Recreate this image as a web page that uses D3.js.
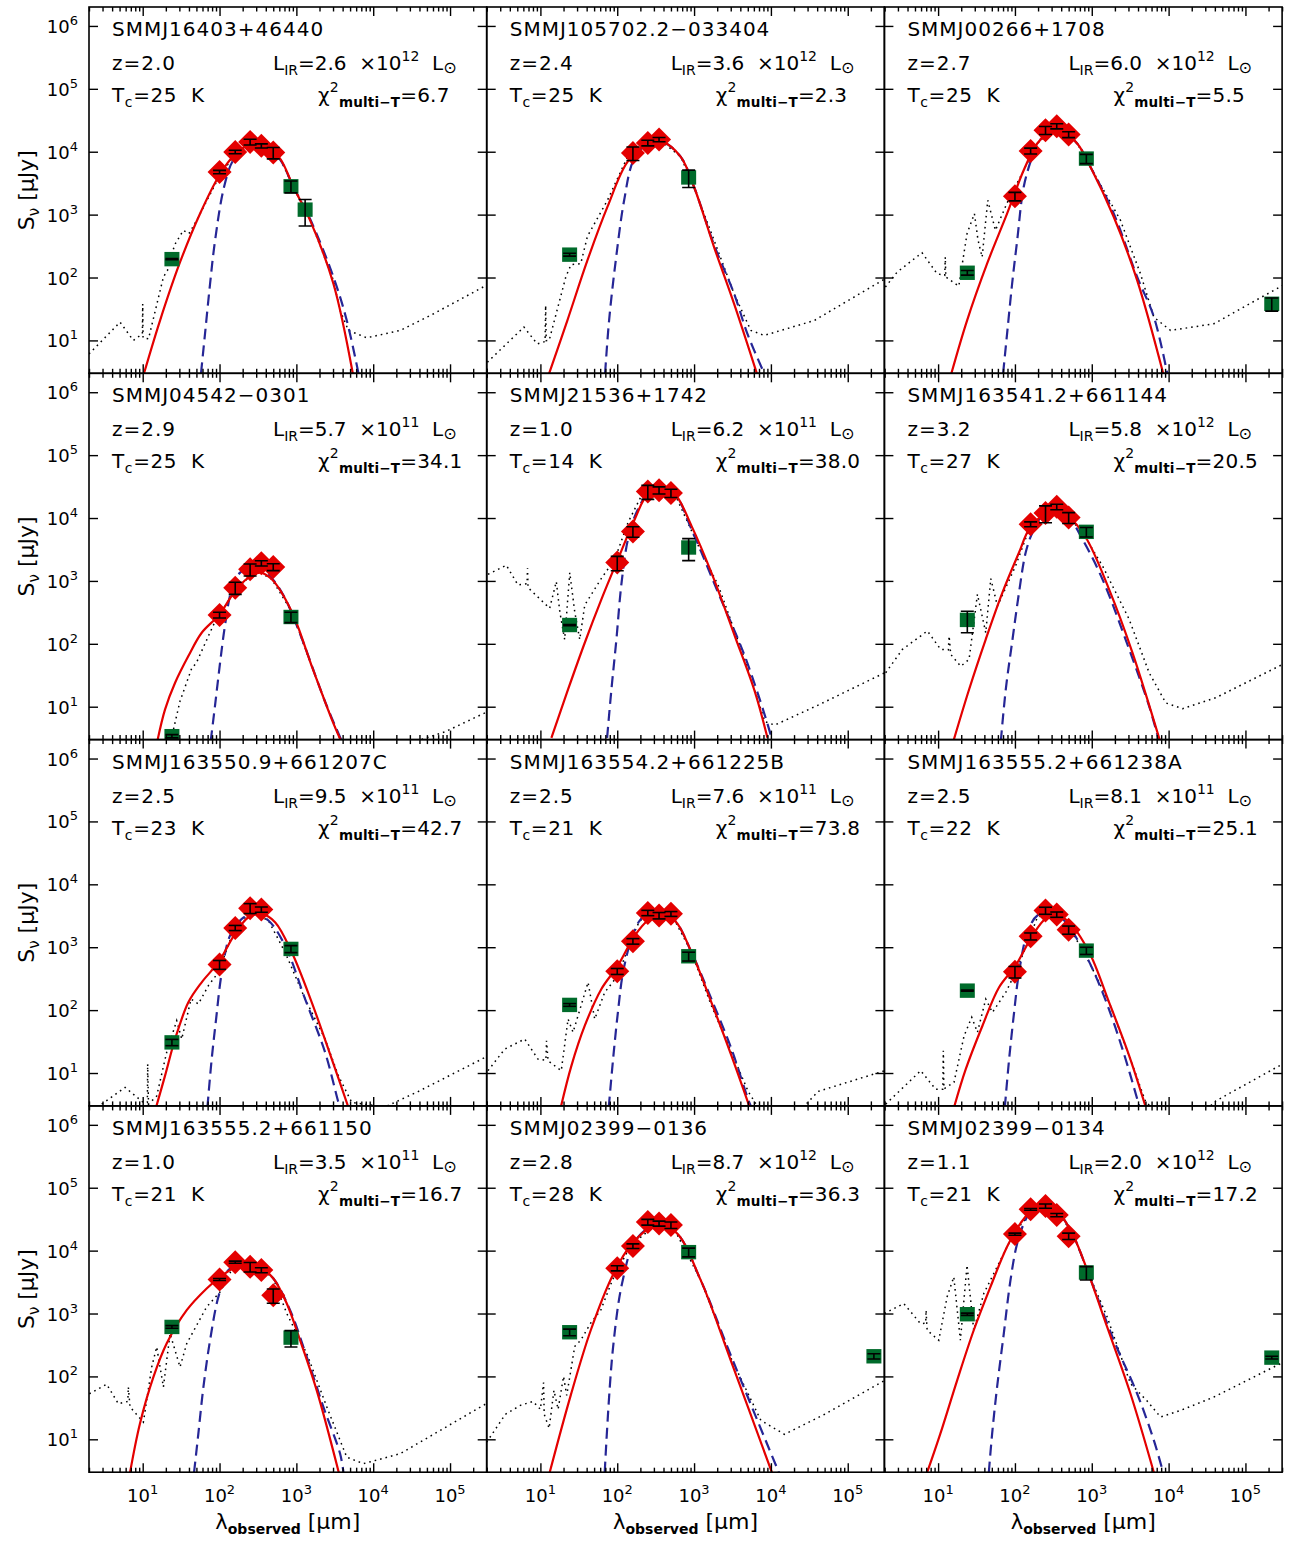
<!DOCTYPE html>
<html>
<head>
<meta charset="utf-8">
<script src="https://cdn.jsdelivr.net/npm/d3@7"></script>
<style>
  body { margin: 0; background: #fff; }
  svg { display: block; }
  text { font-family: "DejaVu Sans", sans-serif; fill: #000; white-space: pre; }
</style>
</head>
<body>
<svg id="chart" width="1292" height="1542"></svg>
<script>
// ---- Source properties (one entry per panel, row-major) ----
const sourceNames = [
  "SMMJ16403+46440", "SMMJ105702.2\u2212033404", "SMMJ00266+1708",
  "SMMJ04542\u22120301", "SMMJ21536+1742", "SMMJ163541.2+661144",
  "SMMJ163550.9+661207C", "SMMJ163554.2+661225B", "SMMJ163555.2+661238A",
  "SMMJ163555.2+661150", "SMMJ02399\u22120136", "SMMJ02399\u22120134"
];
const redshifts = [2.0, 2.4, 2.7, 2.9, 1.0, 3.2, 2.5, 2.5, 2.5, 1.0, 2.8, 1.1];
const lirMantissa = [2.6, 3.6, 6.0, 5.7, 6.2, 5.8, 9.5, 7.6, 8.1, 3.5, 8.7, 2.0];
const lirExponent = [12, 12, 12, 11, 11, 12, 11, 11, 11, 11, 12, 12];
const coldTemps = [25, 25, 25, 25, 14, 27, 23, 21, 22, 21, 28, 21];
const chi2Values = [6.7, 2.3, 5.5, 34.1, 38.0, 20.5, 42.7, 73.8, 25.1, 16.7, 36.3, 17.2];

// ---- Axis ticks ----
const xTicks = [1e1, 1e2, 1e3, 1e4, 1e5];
const yTicks = [1e1, 1e2, 1e3, 1e4, 1e5, 1e6];

// ---- Photometry: [wavelength um, flux uJy, 1-sigma error uJy] ----
// Herschel PACS/SPIRE bands (red diamonds)
const herschelPoints = [
  [[100,4760,300],[160,9930,640],[250,14300,1500],[350,12400,950],[500,9700,2000]],
  [[160,9570,2300],[250,13800,1400],[350,15600,1200]],
  [[100,1955,300],[160,10300,1100],[250,22000,3200],[350,25500,2400],[500,18750,2000]],
  [[100,287,30],[160,782,170],[250,1530,330],[350,1910,180],[500,1668,210]],
  [[100,1955,500],[160,6100,1150],[250,26400,6600],[350,27700,3600],[500,24900,3700]],
  [[160,7980,700],[250,12000,3600],[350,15060,1500],[500,10200,2000]],
  [[100,530,85],[160,2030,190],[250,4180,750],[350,3970,380]],
  [[100,414,45],[160,1245,125],[250,3515,340],[350,3190,370],[500,3390,300]],
  [[100,409,85],[160,1495,190],[250,3830,490],[350,3310,320],[500,1890,280]],
  [[100,3475,130],[160,6560,250],[250,5530,950],[350,4900,450],[500,1955,500]],
  [[100,5260,500],[160,11800,1000],[250,28400,3000],[350,27000,2500],[500,25500,3000]],
  [[100,18300,700],[160,45300,1500],[250,51100,3900],[350,36700,2200],[500,17000,2000]]
];
// Other bands: 24um, (sub)mm and 1.4 GHz (green squares)
const otherPoints = [
  [[24,196,4],[850,2820,600],[1300,1200,540]],
  [[24,231,12],[850,3900,1200]],
  [[24,119,10],[850,7780,1300],[2.2e5,38.2,9]],
  [[24,3.4,0.2],[850,267,50]],
  [[24,199,4],[850,3400,1300]],
  [[24,240,90],[850,6030,1050]],
  [[24,30.7,3.5],[850,940,120]],
  [[24,121,6],[850,718,115]],
  [[24,204,4],[850,883,115]],
  [[24,612,30],[850,414,120]],
  [[24,504,60],[850,9460,1500],[2.19e5,209,20]],
  [[24,975,40],[850,4490,1070],[2.2e5,199,10]]
];

// ---- Model curves: [wavelength um, flux uJy] ----
// multi-temperature fit (red solid)
const multiTCurves = [
  [[10.4,3.0],[16.8,20.7],[30.6,175],[55.7,1035],[99.5,4230],[151,8470],[250,13150],[411,11940],[614,7780],[916,2750],[1510,811],[3035,79.6],[5420,3.0]],
  [[13.0,3.0],[22.4,20.7],[40.9,187],[74.5,1325],[136,6890],[247,13500],[387,14350],[671,8280],[1000,2750],[1820,305],[3320,38.2],[6560,3.0]],
  [[14.9,3.0],[23.8,20.7],[43.4,166],[79,1035],[130,5070],[195,13500],[290,20700],[433,19950],[646,13500],[962,5740],[1935,916],[3900,90],[8490,3.0]],
  [[15.5,2.83],[19.5,9.0],[26.4,24],[39.3,63.8],[58.6,150],[100,294],[159,692],[238,1130],[337,1356],[479,1060],[871,324],[1585,44.3],[2890,6.3],[3820,2.83]],
  [[13.9,3.2],[22.9,18.8],[37.8,104],[62.2,509],[102,2210],[169,9570],[250,24000],[376,28800],[561,24000],[925,7500],[1680,1356],[3390,133],[6180,17.3],[9020,3.2]],
  [[15.8,2.83],[25.3,18.8],[41.7,118],[68.7,652],[113,2830],[153,6640],[228,10800],[340,12500],[507,10200],[836,4900],[1680,736],[3390,72],[7700,2.9]],
  [[14.9,2.83],[19.5,9],[26.4,34.7],[39.3,133],[58.6,277],[96.6,577],[159,1630],[238,3000],[354,3390],[528,2500],[871,832],[1585,133],[2890,16.6],[4760,2.83]],
  [[18.4,2.83],[25.3,13],[37.8,56.5],[62.2,217],[102,510],[169,1530],[250,2655],[376,3190],[561,2655],[925,832],[1680,133],[3070,18.8],[5310,2.83]],
  [[16.1,2.83],[22.9,11.5],[37.8,56.5],[62.2,231],[102,510],[169,1530],[250,2830],[358,3190],[507,2500],[925,832],[1680,133],[3070,18.8],[5060,2.83]],
  [[6.84,2.97],[9.2,17.7],[13.8,98],[20.5,333],[37.4,1130],[68,2500],[102,3830],[151,5200],[226,5880],[337,5400],[502,3600],[750,1440],[1117,376],[1840,60],[3565,2.97]],
  [[13.2,2.97],[24.8,50],[45.2,542],[87.5,4070],[150,12200],[317,25500],[578,19700],[1220,3390],[3000,180],[10300,2.97]],
  [[7.2,2.97],[10.7,12.3],[17.7,86.7],[29.1,542],[48,2655],[79,11500],[118,27100],[176,46900],[262,51100],[392,36700],[584,16600],[871,4900],[1585,612],[3190,53],[6430,2.97]]
];
// single-temperature greybody (blue dashed)
const singleTCurves = [
  [[57.4,3.0],[64.7,12.7],[75.3,79.6],[87.5,390],[114.5,2750],[151,7330],[250,13150],[411,11940],[614,7500],[916,2750],[1510,850],[3035,102],[4530,20.7],[6430,3.0]],
  [[69.5,3.0],[78.3,20.7],[95.7,187],[123,1690],[163,7330],[247,13500],[387,14350],[671,8280],[1000,2750],[1820,330],[3320,55.2],[4950,12.7],[8170,3.0]],
  [[70.2,3.0],[79,12.7],[91.9,79.6],[107,390],[130,2750],[167,8280],[195,13500],[290,20700],[433,19950],[646,13500],[962,5740],[1935,1035],[3900,102],[6430,23.7],[9600,3.0]],
  [[76.7,2.83],[87.5,10.6],[102,51.9],[118,199],[144,736],[185,1356],[250,1630],[337,1590],[479,1100],[713,528],[1175,122],[2365,12],[3900,2.83]],
  [[73.8,3.2],[84,18.8],[97.5,117],[113,863],[138,4600],[178,12250],[250,24000],[376,28800],[561,24000],[925,6640],[2055,652],[4570,63.8],[8340,7.3],[10200,3.2]],
  [[65.5,2.83],[76,18.8],[93,118],[113,652],[138,2830],[169,5880],[228,10800],[340,12500],[507,10000],[757,4600],[1380,1060],[3070,81.5],[5580,10.2],[7530,2.83]],
  [[69.5,2.83],[79,16.6],[90.2,72],[107,399],[137,1530],[195,2830],[290,3390],[433,2655],[713,1060],[1300,150],[2365,21.3],[3530,3.4],[3800,2.6]],
  [[77.5,2.83],[88.3,16.6],[102,92],[119,399],[153,1356],[196,2655],[250,3390],[376,3300],[561,2655],[925,832],[1680,150],[3070,24],[5060,3.8],[5580,2.83]],
  [[73.8,2.83],[84,16.6],[97.5,92],[113,399],[146,1730],[196,3190],[279,3390],[416,2830],[757,940],[1380,192],[2510,24],[4140,3.0]],
  [[46.6,2.97],[53,12.3],[61.7,68],[75.3,376],[96.6,1840],[130,4900],[185,6250],[226,5880],[337,5400],[502,3600],[828,1130],[1365,204],[2250,32.6],[3710,5.9],[4100,2.97]],
  [[68.7,2.97],[87.5,261],[118,3390],[174,14700],[317,25500],[578,19700],[1220,3390],[3000,217],[12700,2.97]],
  [[45.7,2.97],[50.5,12.3],[58.6,68],[71.6,480],[87.5,3390],[107,13000],[137,30600],[176,46900],[262,51100],[392,36700],[584,16600],[871,4900],[1935,376],[3900,53],[6430,9.6],[8490,2.97]]
];
// starburst template (black dotted)
const templateCurves = [
  [[2.0,6.1],[5.07,19.5],[7.55,10],[9.9,12.7],[10,38],[10.1,11],[11.9,10.6],[18.6,102],[21,130],[26,330],[33.8,562],[40,500],[50.5,811],[99.5,4100],[151,8300],[250,13150],[411,11940],[614,7780],[916,2750],[1510,840],[3035,90],[3710,29.9],[4760,14.4],[8240,11],[22400,14.4],[61000,26.5],[2.95e5,74.8]],
  [[2.04,4.5],[6.1,16.3],[9.1,8.8],[11.5,9.6],[11.7,36],[11.9,9.9],[13,10],[21.4,102],[25,160],[33.5,166],[40.9,450],[45.2,562],[74.5,1690],[136,8280],[247,13500],[387,14350],[671,8280],[1000,2750],[1820,390],[3320,55],[5480,14.4],[8170,12],[36600,20.7],[3.04e5,95]],
  [[2.06,70.5],[2.93,122],[6.18,248],[9.7,115],[12.2,108],[12.4,211],[12.6,102],[18.6,73],[23.8,498],[29.7,1035],[33,400],[37.4,211],[44.3,1690],[55.7,562],[79,1535],[130,5070],[195,13500],[290,20700],[433,19950],[646,13500],[962,5740],[2365,811],[4300,115],[6430,23.4],[10600,14.4],[38800,18.4],[3.04e5,74.8]],
  [[22.7,2.4],[24,3.4],[30.6,12.3],[43.4,40.6],[50,50],[83.2,199],[100,290],[159,692],[238,1130],[337,1356],[479,1060],[871,324],[1585,44.3],[2890,6.3],[3820,2.83],[12000,1.8],[86300,4.0],[2.86e5,8.0]],
  [[2.08,1275],[3.6,1775],[5.1,863],[6.7,900],[6.8,1590],[6.9,782],[13.2,367],[16.1,975],[17.9,321],[20.7,117],[24.1,1356],[28,321],[32.5,117],[37.8,414],[62.2,1100],[93,2210],[138,8470],[206,22500],[250,24000],[376,28800],[561,24000],[757,10800],[1245,2830],[2055,863],[4570,56.5],[8340,5.8],[11200,5.1],[41200,10.6],[3.04e5,34.7]],
  [[2.08,34.7],[3.43,81.5],[7.26,160],[10.8,81.5],[13.6,80],[13.9,133],[14.6,68],[19.7,44],[25.3,56.5],[32.5,613],[41.7,150],[48.5,1090],[59.2,399],[102,1730],[153,6640],[228,10800],[340,12500],[507,10200],[757,5880],[1380,1730],[3070,245],[5580,34.7],[9200,11.5],[15200,9.3],[41200,13.9],[3.04e5,47]],
  [[2.93,3.2],[5.9,5.9],[10.2,3.4],[11.5,3.4],[11.6,13.9],[11.9,3.2],[15.2,4.3],[20.5,21.3],[27.7,68],[32.2,34.7],[42.6,150],[53,125],[71.6,245],[96.6,399],[144,1530],[195,2830],[290,3390],[433,2655],[713,832],[1300,150],[2365,34.7],[3530,9.0],[5260,3.4],[14300,2.9],[38800,5.1],[2.86e5,17.7]],
  [[2.08,10.9],[3.43,24],[6.25,34.7],[9.3,16.6],[11.8,16],[12,32.6],[12.6,15.6],[18.7,10.9],[22.9,72],[26.6,44.3],[41.7,277],[50.9,72],[68.7,192],[102,353],[153,1356],[196,2655],[250,2900],[376,3190],[561,2655],[925,832],[1680,118],[3070,21.3],[5060,5.1],[6820,2.83],[20000,2.0],[41200,5.1],[3.04e5,10.9]],
  [[2.08,3.2],[5.94,10.9],[9.3,5.5],[11.5,5.5],[11.7,22.6],[11.9,5.6],[16.1,7.1],[21.8,39.2],[27.4,76.7],[32.5,44.3],[41.7,150],[50.9,92],[76,192],[102,399],[153,1356],[196,3000],[279,3390],[416,2830],[757,940],[1680,133],[3070,18.8],[5060,3.4],[7000,2.5],[30000,2.5],[41200,3.6],[3.04e5,13.9]],
  [[2.02,53],[3.4,75],[4.82,36.8],[6.4,40],[6.5,68],[6.84,32.6],[10.2,18.8],[13.1,141],[15.2,294],[18.6,68],[22.7,480],[30.6,141],[37.4,333],[68,1275],[102,2210],[151,5530],[226,5880],[337,5400],[502,3600],[750,1000],[1365,231],[2490,32.6],[4530,5.2],[7460,4.1],[22400,5.9],[2.95e5,36.8]],
  [[2.0,9],[3.5,25],[5.5,34.7],[8,40],[10,30],[11,80],[11.2,25],[13,15],[15,60],[17,30],[20,100],[22,50],[28,300],[33.5,376],[45,700],[61,1130],[87.5,3500],[150,12200],[317,25500],[578,19700],[1220,3390],[3000,200],[7400,20],[15000,12],[50000,25],[3.04e5,86.7]],
  [[2.0,1000],[3.57,1443],[5.9,692],[6.9,700],[6.97,1130],[7.2,542],[10.2,376],[13.1,1840],[16,3830],[19.5,376],[23.8,5880],[29.1,542],[39.3,2080],[58.6,5530],[96.6,18800],[176,46900],[262,51100],[392,36700],[584,16600],[871,4900],[1585,883],[3190,76.7],[5260,40.6],[7850,22.6],[14300,28.8],[38800,47],[2.86e5,160]]
];

// ---- Layout ----
const svg = d3.select("#chart");
const gridLeft = 89, gridTop = 7, panelW = 397.7, panelH = 366.3;
const nCols = 3, nRows = 4;
const red = "#e40000", green = "#006b2b", navy = "#262696";

const x = d3.scaleLog().domain([2, 3e5]).range([0, panelW]);
const y = d3.scaleLog().domain([3, 2e6]).range([panelH, 0]);

// minor x ticks (2..9 per decade)
const xMinor = [];
for (let d = 0; d <= 5; d++) for (let m = 2; m <= 9; m++) {
  const v = m * Math.pow(10, d);
  if (v >= 2 && v <= 3e5) xMinor.push(v);
}

svg.append("defs").append("clipPath").attr("id", "plotArea")
  .append("rect").attr("width", panelW).attr("height", panelH);

const smooth = d3.line().x(d => x(d[0])).y(d => y(d[1])).curve(d3.curveCatmullRom.alpha(0.5));
const jagged = d3.line().x(d => x(d[0])).y(d => y(d[1]));

// mixed text with sub/superscripts; s = vertical shift in px (positive = up)
function rich(sel, parts) {
  let shift = 0;
  parts.forEach(p => {
    const target = p.s || 0;
    const ts = sel.append("tspan").text(p.t);
    const dy = -(target - shift);
    if (dy) ts.attr("dy", dy);
    if (p.f) ts.attr("font-size", p.f);
    if (p.w) ts.attr("font-weight", p.w);
    shift = target;
  });
  return sel;
}

function diamondPath(cx, cy, r) {
  return `M${cx},${cy - r}L${cx + r},${cy}L${cx},${cy + r}L${cx - r},${cy}Z`;
}

sourceNames.forEach((name, i) => {
  const col = i % nCols, row = Math.floor(i / nCols);
  const g = svg.append("g")
    .attr("transform", `translate(${gridLeft + col * panelW},${gridTop + row * panelH})`);

  const plot = g.append("g").attr("clip-path", "url(#plotArea)");

  // template, single-T, multi-T curves
  plot.append("path").attr("d", jagged(templateCurves[i]))
    .attr("fill", "none").attr("stroke", "#000").attr("stroke-width", 1.5)
    .attr("stroke-dasharray", "1.6,4");
  plot.append("path").attr("d", smooth(singleTCurves[i]))
    .attr("fill", "none").attr("stroke", navy).attr("stroke-width", 2.2)
    .attr("stroke-dasharray", "11,6");
  plot.append("path").attr("d", smooth(multiTCurves[i]))
    .attr("fill", "none").attr("stroke", red).attr("stroke-width", 2.2);

  // markers
  plot.selectAll(".sq").data(otherPoints[i]).join("rect")
    .attr("x", d => x(d[0]) - 7.5).attr("y", d => y(d[1]) - 7.2)
    .attr("width", 15).attr("height", 14.4).attr("fill", green);
  plot.selectAll(".dm").data(herschelPoints[i]).join("path")
    .attr("d", d => diamondPath(x(d[0]), y(d[1]), 12)).attr("fill", red);

  // error bars
  const allPts = herschelPoints[i].concat(otherPoints[i]);
  const eb = plot.append("g").attr("stroke", "#000").attr("stroke-width", 1.6);
  allPts.forEach(d => {
    const cx = x(d[0]);
    const y1 = y(d[1] + d[2]), y2 = y(Math.max(d[1] - d[2], 1e-3));
    eb.append("line").attr("x1", cx).attr("x2", cx).attr("y1", y1).attr("y2", y2);
    eb.append("line").attr("x1", cx - 6.5).attr("x2", cx + 6.5).attr("y1", y1).attr("y2", y1);
    eb.append("line").attr("x1", cx - 6.5).attr("x2", cx + 6.5).attr("y1", y2).attr("y2", y2);
  });

  // ticks on all four sides, pointing inward
  const tickStyle = s => s.call(a => a.select(".domain").remove())
    .selectAll("line").attr("stroke", "#000").attr("stroke-width", 1.4);
  g.append("g").attr("transform", `translate(0,${panelH})`)
    .call(d3.axisBottom(x).tickValues(xTicks).tickSize(-9).tickFormat("")).call(tickStyle);
  g.append("g").attr("transform", `translate(0,${panelH})`)
    .call(d3.axisBottom(x).tickValues(xMinor).tickSize(-4.5).tickFormat("")).call(tickStyle);
  g.append("g")
    .call(d3.axisTop(x).tickValues(xTicks).tickSize(-9).tickFormat("")).call(tickStyle);
  g.append("g")
    .call(d3.axisTop(x).tickValues(xMinor).tickSize(-4.5).tickFormat("")).call(tickStyle);
  g.append("g")
    .call(d3.axisLeft(y).tickValues(yTicks).tickSize(-9).tickFormat("")).call(tickStyle);
  g.append("g").attr("transform", `translate(${panelW},0)`)
    .call(d3.axisRight(y).tickValues(yTicks).tickSize(-9).tickFormat("")).call(tickStyle);

  g.append("rect").attr("width", panelW).attr("height", panelH)
    .attr("fill", "none").attr("stroke", "#000").attr("stroke-width", 1.6);

  // annotations
  const info = g.append("g").attr("font-size", 20);
  info.append("text").attr("x", 23).attr("y", 29).attr("letter-spacing", 1).text(name);
  info.append("text").attr("x", 23).attr("y", 63).attr("letter-spacing", 1)
    .text("z=" + redshifts[i].toFixed(1));
  rich(info.append("text").attr("x", 23).attr("y", 95).attr("letter-spacing", 0.6),
    [{t: "T"}, {t: "c", s: -5, f: 14}, {t: "=" + coldTemps[i] + "  K"}]);
  rich(info.append("text").attr("x", 184).attr("y", 63),
    [{t: "L"}, {t: "IR", s: -5, f: 14}, {t: "=" + lirMantissa[i].toFixed(1) + "  \u00d710"},
     {t: String(lirExponent[i]), s: 9, f: 14}, {t: "  L"}, {t: "\u2299", s: -3, f: 16}]);
  rich(info.append("text").attr("x", 229).attr("y", 95).attr("letter-spacing", 0.2),
    [{t: "\u03c7"}, {t: "2", s: 10, f: 14}, {t: "multi\u2212T", s: -5, f: 13.5, w: "bold"},
     {t: "=" + chi2Values[i].toFixed(1)}]);

  // y tick labels and title on the left column
  if (col === 0) {
    yTicks.forEach(v => {
      rich(g.append("text").attr("x", -11).attr("y", y(v) + 7)
        .attr("text-anchor", "end").attr("font-size", 18),
        [{t: "10"}, {t: String(Math.round(Math.log10(v))), s: 8, f: 13}]);
    });
    rich(g.append("text")
      .attr("transform", `translate(${-55},${panelH / 2}) rotate(-90)`)
      .attr("text-anchor", "middle").attr("font-size", 22),
      [{t: "S"}, {t: "\u03bd", s: -5, f: 15}, {t: " [\u03bcJy]"}]);
  }
  // x tick labels and title on the bottom row
  if (row === nRows - 1) {
    xTicks.forEach(v => {
      rich(g.append("text").attr("x", x(v)).attr("y", panelH + 30)
        .attr("text-anchor", "middle").attr("font-size", 18),
        [{t: "10"}, {t: String(Math.round(Math.log10(v))), s: 8, f: 13}]);
    });
    rich(g.append("text").attr("x", panelW / 2).attr("y", panelH + 57)
      .attr("text-anchor", "middle").attr("font-size", 21),
      [{t: "\u03bb"}, {t: "observed", s: -5, f: 14, w: "bold"}, {t: " [\u03bcm]", f: 22}]);
  }
});
</script>
</body>
</html>
